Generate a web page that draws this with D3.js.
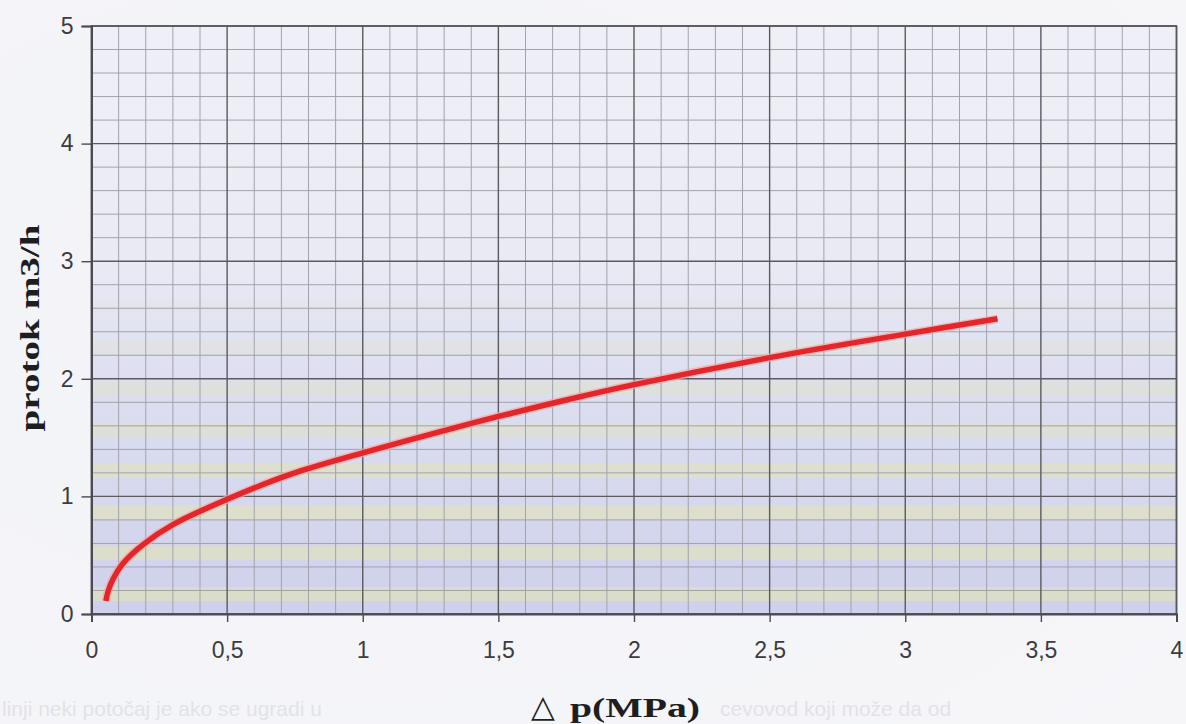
<!DOCTYPE html>
<html>
<head>
<meta charset="utf-8">
<script src="https://cdn.jsdelivr.net/npm/d3@7/dist/d3.min.js"></script>
<style>
  html, body { margin: 0; padding: 0; background: #f4f4f8; }
  svg { display: block; }
</style>
</head>
<body>
<svg id="chart" width="1186" height="724"></svg>
<script>
// ---- data ----
const pressure = [0.053, 0.062, 0.08, 0.116, 0.19, 0.30, 0.50, 0.73, 1.00, 1.30, 1.50, 1.75, 2.00, 2.50, 3.00, 3.34];
const flow     = [0.11, 0.20, 0.30, 0.43, 0.59, 0.76, 0.975, 1.185, 1.37, 1.56, 1.68, 1.82, 1.95, 2.18, 2.38, 2.51];
const xTicks = [0, 0.5, 1, 1.5, 2, 2.5, 3, 3.5, 4];
const yTicks = [0, 1, 2, 3, 4, 5];
const xTitle = "p(MPa)";
const yTitle = "protok m3/h";

const W = 1186, H = 724;
const L = 91.5, R = 1176.5, T = 26, B = 614;

const svg = d3.select("#chart");
const x = d3.scaleLinear().domain([0, 4]).range([L, R]);
const y = d3.scaleLinear().domain([0, 5]).range([B, T]);

// background
const defs = svg.append("defs");
const g1 = defs.append("linearGradient").attr("id", "bg").attr("x1", 0).attr("y1", 0).attr("x2", 0).attr("y2", 1);
[[0, "#eff0f7"], [0.4, "#e9eaf3"], [0.62, "#dcdef0"], [1, "#cfd1ec"]].forEach(([o, c]) =>
  g1.append("stop").attr("offset", o).attr("stop-color", c));

const page = defs.append("radialGradient").attr("id", "page").attr("cx", 0.3).attr("cy", 0.4).attr("r", 0.9);
page.append("stop").attr("offset", 0).attr("stop-color", "#f2f3f8");
page.append("stop").attr("offset", 1).attr("stop-color", "#f6f6f9");
svg.append("rect").attr("width", W).attr("height", H).attr("fill", "url(#page)");

// faint bleed-through text of the scanned page
svg.append("text").attr("x", 2).attr("y", 716)
  .attr("font-family", "Liberation Sans, Arial, sans-serif").attr("font-size", 21)
  .attr("fill", "#e2e2ea").text("linji neki potočaj je ako se ugradi u");
svg.append("text").attr("x", 720).attr("y", 716)
  .attr("font-family", "Liberation Sans, Arial, sans-serif").attr("font-size", 21)
  .attr("fill", "#e2e2ea").text("cevovod koji može da od");

svg.append("rect").attr("x", L).attr("y", T).attr("width", R - L).attr("height", B - T)
  .attr("fill", "url(#bg)");

// scanned moiré stripes
const stripes = svg.append("g");
for (let yy = B - 14; yy > T + 220; yy -= 41) {
  const op = Math.max(0, Math.min(1, (yy - 270) / 230));
  stripes.append("rect").attr("x", L).attr("y", yy - 13).attr("width", R - L).attr("height", 14)
    .attr("fill", "#e3e4b6").attr("opacity", 0.6 * op);
}

// grid
const grid = svg.append("g");
const minorX = d3.range(0, 40.5, 1).map(d => d / 10).filter(d => Math.round(d * 10) % 5 !== 0);
const minorY = d3.range(0, 25.5, 1).map(d => d / 5).filter(d => Math.round(d * 5) % 5 !== 0);
grid.selectAll(".mx").data(minorX).join("line")
  .attr("x1", d => x(d)).attr("x2", d => x(d)).attr("y1", T).attr("y2", B)
  .attr("stroke", "#a2a2ac").attr("stroke-width", 1);
grid.selectAll(".my").data(minorY).join("line")
  .attr("x1", L).attr("x2", R).attr("y1", d => y(d)).attr("y2", d => y(d))
  .attr("stroke", "#a2a2ac").attr("stroke-width", 1);
grid.selectAll(".Mx").data(xTicks).join("line")
  .attr("x1", d => x(d)).attr("x2", d => x(d)).attr("y1", T).attr("y2", B)
  .attr("stroke", "#5a5a60").attr("stroke-width", 1.4);
grid.selectAll(".My").data(yTicks).join("line")
  .attr("x1", L).attr("x2", R).attr("y1", d => y(d)).attr("y2", d => y(d))
  .attr("stroke", "#5a5a60").attr("stroke-width", 1.4);

// border
svg.append("rect").attr("x", L).attr("y", T).attr("width", R - L).attr("height", B - T)
  .attr("fill", "none").attr("stroke", "#55555c").attr("stroke-width", 1.6);

// axes
const fmt = d => String(d).replace(".", ",");
const xAxis = svg.append("g").attr("transform", `translate(0,${B})`)
  .call(d3.axisBottom(x).tickValues(xTicks).tickFormat(fmt).tickSize(8).tickPadding(20));
const yAxis = svg.append("g").attr("transform", `translate(${L},0)`)
  .call(d3.axisLeft(y).tickValues(yTicks).tickFormat(fmt).tickSize(10).tickPadding(8));
[xAxis, yAxis].forEach(a => {
  a.select(".domain").attr("stroke", "#4a4a50").attr("stroke-width", 2);
  a.selectAll(".tick line").attr("stroke", "#4a4a50").attr("stroke-width", 1.4);
  a.selectAll(".tick text").attr("font-family", "Liberation Sans, Arial, sans-serif")
    .attr("font-size", 23).attr("fill", "#3c3c40");
});

// curve
const pts = pressure.map((p, i) => [p, flow[i]]);
const line = d3.line().x(d => x(d[0])).y(d => y(d[1])).curve(d3.curveCatmullRom.alpha(0.5));
svg.append("path").datum(pts).attr("d", line).attr("fill", "none")
  .attr("stroke", "#f2a6a0").attr("stroke-width", 8.5).attr("opacity", 0.7);
svg.append("path").datum(pts).attr("d", line).attr("fill", "none")
  .attr("stroke", "#e3262b").attr("stroke-width", 5.5);

// titles
svg.append("text")
  .attr("transform", `translate(39,328) rotate(-90)`)
  .attr("text-anchor", "middle")
  .attr("font-family", "Liberation Serif, Times New Roman, serif")
  .attr("font-weight", "bold").attr("font-size", 28).attr("fill", "#1e1e22")
  .attr("textLength", 207).attr("lengthAdjust", "spacingAndGlyphs")
  .text(yTitle);

const xt = svg.append("text").attr("y", 717).attr("fill", "#1e1e22");
xt.append("tspan").attr("x", 531)
  .attr("font-family", "DejaVu Sans, sans-serif").attr("font-size", 31).text("△");
xt.append("tspan").attr("x", 570)
  .attr("font-family", "Liberation Serif, Times New Roman, serif")
  .attr("font-weight", "bold").attr("font-size", 28)
  .attr("textLength", 130).attr("lengthAdjust", "spacingAndGlyphs")
  .text(xTitle);
</script>
</body>
</html>
